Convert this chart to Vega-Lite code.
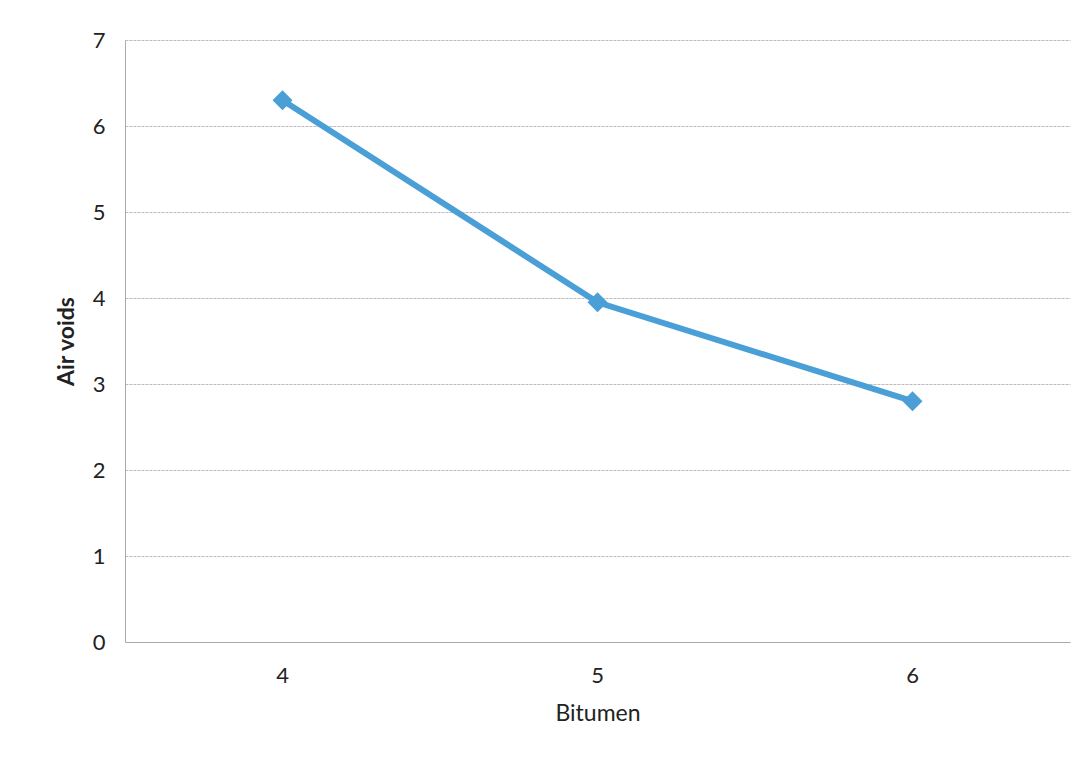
{
  "$schema": "https://vega.github.io/schema/vega-lite/v6.json",
  "width": 945,
  "height": 602,
  "autosize": {"type": "none"},
  "padding": {"left": 125, "top": 40, "right": 16, "bottom": 122},
  "background": "white",
  "config": {
    "view": {"stroke": null},
    "font": "Lato"
  },
  "data": {
    "values": [
      {"Bitumen": "4", "Air voids": 6.3},
      {"Bitumen": "5", "Air voids": 3.95},
      {"Bitumen": "6", "Air voids": 2.8}
    ]
  },
  "encoding": {
    "x": {
      "field": "Bitumen",
      "type": "ordinal",
      "scale": {"type": "band", "paddingInner": 0, "paddingOuter": 0},
      "axis": {
        "title": "Bitumen",
        "labelAngle": 0,
        "labelFontSize": 22,
        "labelColor": "#222",
        "labelPadding": 23,
        "ticks": false,
        "domain": true,
        "domainColor": "#aaa",
        "titleFontSize": 23,
        "titleFontWeight": "normal",
        "titleColor": "#222",
        "titlePadding": 16
      }
    },
    "y": {
      "field": "Air voids",
      "type": "quantitative",
      "scale": {"domain": [0, 7], "nice": false},
      "axis": {
        "title": "Air voids",
        "values": [0, 1, 2, 3, 4, 5, 6, 7],
        "labelFontSize": 22,
        "labelColor": "#222",
        "labelPadding": 20,
        "ticks": false,
        "domainColor": "#aaa",
        "gridColor": "#bbbbbb",
        "gridDash": [3, 1],
        "titleFontSize": 23,
        "titleFontWeight": "bold",
        "titleColor": "#222",
        "titlePadding": 14
      }
    }
  },
  "layer": [
    {
      "mark": {"type": "line", "color": "#4a9fd6", "strokeWidth": 6}
    },
    {
      "mark": {"type": "point", "shape": "diamond", "filled": true, "size": 400, "color": "#4a9fd6", "opacity": 1}
    }
  ]
}
